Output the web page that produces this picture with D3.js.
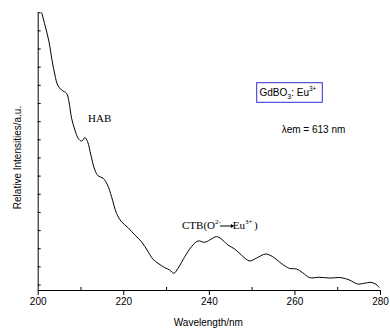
<!DOCTYPE html>
<html>
<head>
<meta charset="utf-8">
<script src="https://cdn.jsdelivr.net/npm/d3@7"></script>
<style>
  html, body { margin: 0; padding: 0; background: #fff; }
  svg { display: block; }
</style>
</head>
<body>
<svg id="chart" width="390" height="329"></svg>
<script>
// Excitation spectrum of GdBO3:Eu3+ monitored at 613 nm
const wavelength = [200.9, 201.7, 202.64, 203.41, 204.03, 204.66, 205.6, 206.76, 207.3, 207.93,
  208.7, 209.47, 210.26, 211.03, 211.66, 212.43, 213.36, 214.13, 215.3, 216.33,
  217.26, 218.43, 219.59, 221.13, 222.69, 224.26, 225.8, 226.96, 228.13, 229.69,
  230.86, 231.79, 232.79, 234.36, 235.92, 237.46, 239.02, 240.19, 241.75, 242.92,
  244.45, 246.02, 247.58, 249.52, 251.08, 253.25, 254.95, 256.91, 258.85, 260.41,
  261.95, 263.51, 265.84, 268.18, 270.9, 272.84, 274.78, 276.34, 277.9, 279.07, 279.84];
const intensity = [15.0, 14.29, 13.37, 12.27, 11.54, 10.99, 10.71, 10.53, 10.07, 9.15,
  8.51, 8.05, 7.9, 8.09, 7.87, 7.13, 6.31, 5.99, 5.85, 5.48,
  4.84, 3.92, 3.46, 3.13, 2.73, 2.36, 1.81, 1.39, 1.17, 0.93,
  0.8, 0.62, 0.89, 1.53, 2.08, 2.4, 2.33, 2.45, 2.64, 2.51,
  2.18, 1.96, 1.63, 1.3, 1.45, 1.68, 1.53, 1.17, 0.89, 0.86,
  0.65, 0.38, 0.4, 0.36, 0.38, 0.25, 0.03, 0.07, 0.12, 0.01, -0.17];

const xMajorTicks = [200, 220, 240, 260, 280];
const xMinorTicks = [210, 230, 250, 270];
const yTicks = d3.range(0, 16);

const svg = d3.select("#chart");
const plotL = 37.7, plotR = 380, plotT = 12.2, plotB = 290;

const x = d3.scaleLinear().domain([200, 280]).range([plotL, plotR]);
const y = d3.scaleLinear().domain([-0.3, 15]).range([plotB, plotT]);

svg.append("defs").append("clipPath").attr("id", "plot")
  .append("rect").attr("x", plotL).attr("y", plotT)
  .attr("width", plotR - plotL).attr("height", plotB - plotT);

// spectrum curve
const pts = wavelength.map((w, i) => [w, intensity[i]]);
svg.append("path")
  .datum(pts)
  .attr("clip-path", "url(#plot)")
  .attr("fill", "none")
  .attr("stroke", "#000")
  .attr("stroke-width", 1)
  .attr("d", d3.line().x(d => x(d[0])).y(d => y(d[1])).curve(d3.curveCatmullRom.alpha(0.5)));

// x axis: labelled ticks point outward, minor ticks inward
const xAxis = svg.append("g").attr("transform", `translate(0,${plotB})`)
  .call(d3.axisBottom(x).tickValues(xMajorTicks).tickSize(5).tickSizeOuter(0).tickPadding(3));
const xMinor = svg.append("g").attr("transform", `translate(0,${plotB})`)
  .call(d3.axisTop(x).tickValues(xMinorTicks).tickSize(3).tickSizeOuter(0).tickFormat(""));
xMinor.select(".domain").remove();

// y axis: unlabelled inward ticks
const yAxis = svg.append("g").attr("transform", `translate(${plotL},0)`)
  .call(d3.axisRight(y).tickValues(yTicks).tickSize(3).tickSizeOuter(0).tickFormat(""));

svg.selectAll(".domain, .tick line").attr("stroke", "#000").attr("stroke-width", 1);
xAxis.selectAll("text")
  .attr("font-family", "Liberation Sans, Arial, sans-serif")
  .attr("font-size", 10).attr("fill", "#000");

// axis titles
svg.append("text")
  .attr("x", (plotL + plotR) / 2 - 0.5).attr("y", 326)
  .attr("text-anchor", "middle")
  .attr("font-family", "Liberation Sans, Arial, sans-serif").attr("font-size", 10)
  .text("Wavelength/nm");
svg.append("text")
  .attr("transform", "translate(21,157.5) rotate(-90)")
  .attr("text-anchor", "middle")
  .attr("font-family", "Liberation Sans, Arial, sans-serif").attr("font-size", 10)
  .text("Relative Intensities/a.u.");

// annotations
const serif = "Liberation Serif, Times New Roman, serif";
const sans = "Liberation Sans, Arial, sans-serif";

svg.append("text").attr("x", 88).attr("y", 122)
  .attr("font-family", serif).attr("font-size", 11).text("HAB");

// charge-transfer band label with arrow O2- -> Eu3+
const ctbY = 229;
const ctb = svg.append("text").attr("x", 182).attr("y", ctbY)
  .attr("font-family", serif).attr("font-size", 11);
ctb.append("tspan").text("CTB(O");
const sup1 = ctb.append("tspan").attr("font-size", 7).attr("dy", -5).text("2-");
const eu = ctb.append("tspan").attr("dx", 12).attr("dy", 5).text("Eu");
ctb.append("tspan").attr("font-size", 7).attr("dy", -5).text("3+");
ctb.append("tspan").attr("dx", 1.5).attr("dy", 5).text(")");

const supEnd = sup1.node().getBBox();
const euBox = eu.node().getBBox();
const ax0 = supEnd.x + supEnd.width - 1.5;
const ax1 = euBox.x + 1;
svg.append("line").attr("x1", ax0).attr("y1", ctbY - 3).attr("x2", ax1 - 2).attr("y2", ctbY - 3)
  .attr("stroke", "#000").attr("stroke-width", 1);
svg.append("path")
  .attr("d", `M${ax1 - 3},${ctbY - 5} L${ax1 + 0.5},${ctbY - 3} L${ax1 - 3},${ctbY - 1} Z`)
  .attr("fill", "#000");

svg.append("rect").attr("x", 256.7).attr("y", 82.7).attr("width", 65.6).attr("height", 19.6)
  .attr("fill", "none").attr("stroke", "#2e2ed6").attr("stroke-width", 1);
const lg = svg.append("text").attr("x", 259.5).attr("y", 96)
  .attr("font-family", sans).attr("font-size", 10);
lg.append("tspan").text("GdBO");
lg.append("tspan").attr("font-size", 7).attr("dy", 3).text("3");
lg.append("tspan").attr("dy", -3).text(": Eu");
lg.append("tspan").attr("font-size", 6.5).attr("dy", -5).text("3+");

svg.append("text").attr("x", 281.7).attr("y", 132.5)
  .attr("font-family", sans).attr("font-size", 10).text("λem = 613 nm");
</script>
</body>
</html>
